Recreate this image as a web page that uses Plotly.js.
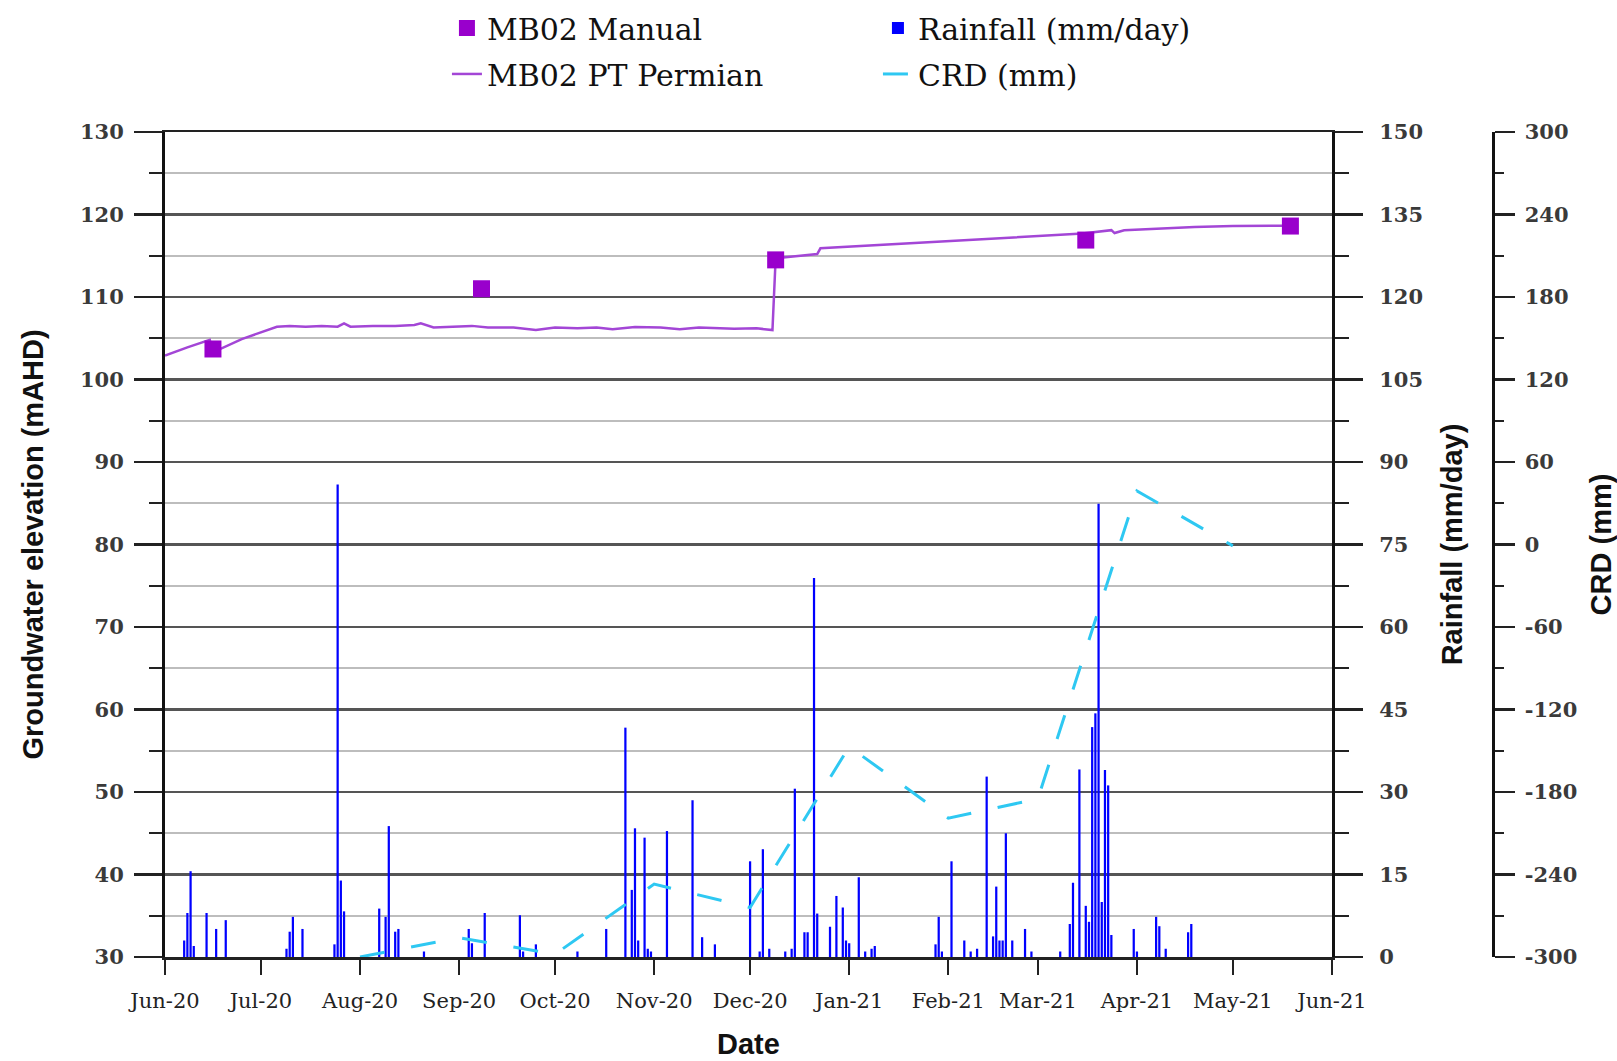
<!DOCTYPE html>
<html>
<head>
<meta charset="utf-8">
<script src="https://cdn.plot.ly/plotly-3.0.1.min.js"></script>
<style>html,body{margin:0;padding:0;background:#fff;}#chart{width:1617px;height:1061px;}</style>
</head>
<body>
<div id="chart"></div>
<script>
// ---- Data ----
const manualDates = ['2020-06-16','2020-09-08','2020-12-09','2021-03-16','2021-05-19'];
const manualValues = [103.7, 111.0, 114.5, 116.9, 118.6];

const ptDates = ['2020-06-01','2020-06-08','2020-06-15','2020-06-16','2020-06-25','2020-07-06',
  '2020-07-10','2020-07-15','2020-07-20','2020-07-25','2020-07-27','2020-07-29','2020-08-05','2020-08-12',
  '2020-08-18','2020-08-20','2020-08-24','2020-09-01','2020-09-05','2020-09-10','2020-09-18','2020-09-25',
  '2020-10-01','2020-10-08','2020-10-14','2020-10-19','2020-10-26','2020-11-03','2020-11-09','2020-11-15',
  '2020-11-20','2020-11-26','2020-12-03','2020-12-08','2020-12-09','2020-12-14','2020-12-22','2020-12-23',
  '2021-01-05','2021-01-20','2021-02-07','2021-02-20','2021-03-05','2021-03-15','2021-03-24','2021-03-25',
  '2021-03-28','2021-04-07','2021-04-19','2021-05-01','2021-05-14','2021-05-19'];
const ptValues = [102.9,103.9,104.8,103.3,104.9,106.4,
  106.5,106.4,106.5,106.4,106.8,106.4,106.5,106.5,
  106.6,106.8,106.3,106.4,106.5,106.3,106.3,106.0,
  106.3,106.2,106.3,106.1,106.35,106.3,106.1,106.3,
  106.2,106.15,106.2,106.0,114.7,114.9,115.2,115.9,
  116.2,116.5,116.9,117.2,117.5,117.7,118.1,117.75,
  118.1,118.3,118.5,118.6,118.7,118.65];

const rainDates = [
  '2020-06-07','2020-06-08','2020-06-09','2020-06-10','2020-06-14','2020-06-17','2020-06-20',
  '2020-07-09','2020-07-10','2020-07-11','2020-07-14','2020-07-24','2020-07-25','2020-07-26','2020-07-27',
  '2020-08-07','2020-08-09','2020-08-10','2020-08-12','2020-08-13','2020-08-21',
  '2020-09-04','2020-09-05','2020-09-09','2020-09-20','2020-09-21','2020-09-25',
  '2020-10-08','2020-10-17','2020-10-23','2020-10-25','2020-10-26','2020-10-27','2020-10-29','2020-10-30','2020-10-31',
  '2020-11-05','2020-11-13','2020-11-16','2020-11-20',
  '2020-12-01','2020-12-04','2020-12-05','2020-12-07','2020-12-12','2020-12-14','2020-12-15','2020-12-18','2020-12-19','2020-12-21','2020-12-22','2020-12-26','2020-12-28','2020-12-30','2020-12-31',
  '2021-01-01','2021-01-04','2021-01-06','2021-01-08','2021-01-09','2021-01-28','2021-01-29','2021-01-30',
  '2021-02-02','2021-02-06','2021-02-08','2021-02-10','2021-02-13','2021-02-15','2021-02-16','2021-02-17','2021-02-18','2021-02-19','2021-02-21','2021-02-25','2021-02-27',
  '2021-03-08','2021-03-11','2021-03-12','2021-03-14','2021-03-16','2021-03-17','2021-03-18','2021-03-19','2021-03-20','2021-03-21','2021-03-22','2021-03-23','2021-03-24','2021-03-31',
  '2021-04-01','2021-04-07','2021-04-08','2021-04-10','2021-04-17','2021-04-18'];
const rainValues = [
  3,8.0,15.6,2,8.0,5.1,6.7,
  1.5,4.6,7.3,5.1,2.3,85.9,13.9,8.3,
  8.8,7.3,23.8,4.6,5.1,1.0,
  5.1,2.5,8.0,7.6,1.0,2.3,
  1.0,5.1,41.7,12.2,23.4,3.0,21.7,1.5,1.0,
  22.9,28.5,3.6,2.3,
  17.4,1.0,19.6,1.5,1.0,1.5,30.6,4.5,4.5,68.9,7.9,5.5,11.1,9.0,3.0,
  2.5,14.5,1.0,1.5,2.0,2.3,7.3,1.0,
  17.4,3.0,1.0,1.5,32.8,3.75,12.8,3.0,3.0,22.5,3.0,5.1,1.0,
  1.0,6.0,13.5,34.1,9.3,6.4,41.8,44.3,82.4,10.0,34.0,31.2,4.0,5.1,
  1.0,7.3,5.6,1.5,4.5,6.0];

const crdDates = ['2020-08-01','2020-09-01','2020-10-01','2020-11-01','2020-12-01',
  '2021-01-01','2021-02-01','2021-03-01','2021-04-01','2021-05-01'];
const crdValues = [-300,-286,-298,-247,-264,-147,-199,-185,39,-1];

// CRD axis tick labels (plain hyphen as in the reference)
const crdTickVals = [-300,-240,-180,-120,-60,0,60,120,180,240,300];
const crdTickText = ['-300','-240','-180','-120','-60','0','60','120','180','240','300'];

// ---- Styling ----
const tickFont = {family: '"DejaVu Serif", serif', size: 21, color: '#3a3a3a', weight: 'bold'};
const titleFont = {family: '"Liberation Sans", Arial, sans-serif', size: 29, color: '#111', weight: 'bold'};
const legendFont = {family: '"DejaVu Serif", serif', size: 30, color: '#111'};

const traces = [
  {type: 'bar', name: 'Rainfall (mm/day)', x: rainDates, y: rainValues, yaxis: 'y2',
   width: 0.7 * 86400000, marker: {color: '#0000FF', line: {width: 0}},
   legend: 'legend', legendrank: 2},
  {type: 'scatter', mode: 'lines', name: 'CRD (mm)', x: crdDates, y: crdValues, yaxis: 'y3',
   line: {color: '#2EC8F2', width: 3, dash: '25px,27px'}, legend: 'legend2', legendrank: 2},
  {type: 'scatter', mode: 'lines', name: 'MB02 PT Permian', x: ptDates, y: ptValues, yaxis: 'y',
   line: {color: '#A346D6', width: 2.5}, legend: 'legend2', legendrank: 1},
  {type: 'scatter', mode: 'markers', name: 'MB02 Manual', x: manualDates, y: manualValues, yaxis: 'y',
   marker: {symbol: 'square', size: 17, color: '#9900CC'}, legend: 'legend', legendrank: 1}
];

const layout = {
  width: 1617, height: 1061,
  margin: {l: 165, r: 120, t: 132, b: 104},
  paper_bgcolor: '#fff', plot_bgcolor: '#fff',
  showlegend: true,
  barmode: 'overlay',
  xaxis: {
    type: 'date', range: ['2020-06-01', '2021-06-01'], domain: [0, 0.8761],
    tick0: '2020-06-01', dtick: 'M1', tickformat: '%b-%y',
    ticks: 'outside', ticklen: 15, tickwidth: 2, tickcolor: '#222',
    showline: true, mirror: true, linecolor: '#222', linewidth: 2.5, showgrid: false, zeroline: false,
    tickfont: {family: '"DejaVu Serif", serif', size: 21, color: '#222'},
    ticklabelstandoff: 8,
    title: {text: 'Date', font: titleFont, standoff: 22}
  },
  yaxis: {
    range: [30, 130], dtick: 10, tick0: 30,
    ticks: 'outside', ticklen: 28, tickwidth: 2.5, tickcolor: '#222',
    showline: true, linecolor: '#111', linewidth: 3,
    showgrid: true, gridcolor: '#555', gridwidth: 2.5, zeroline: false,
    minor: {dtick: 5, ticks: 'outside', ticklen: 13, tickwidth: 2, tickcolor: '#222',
            showgrid: true, gridcolor: '#bdbdbd', gridwidth: 2},
    tickfont: tickFont, ticklabelstandoff: 6,
    title: {text: 'Groundwater elevation (mAHD)', font: titleFont, standoff: 28}
  },
  yaxis2: {
    range: [0, 150], dtick: 15, tick0: 0, overlaying: 'y', side: 'right', anchor: 'x',
    ticks: 'outside', ticklen: 28, tickwidth: 2.5, tickcolor: '#222',
    showline: true, linecolor: '#111', linewidth: 3, showgrid: false, zeroline: false,
    minor: {dtick: 7.5, ticks: 'outside', ticklen: 14, tickwidth: 2, tickcolor: '#222', showgrid: false},
    tickfont: tickFont, ticklabelstandoff: 12,
    title: {text: 'Rainfall (mm/day)', font: titleFont, standoff: 20}
  },
  yaxis3: {
    range: [-300, 300], tickmode: 'array', tickvals: crdTickVals, ticktext: crdTickText,
    overlaying: 'y', side: 'right', anchor: 'free', position: 0.997,
    ticks: 'outside', ticklen: 20, tickwidth: 2.5, tickcolor: '#222',
    showline: true, linecolor: '#111', linewidth: 2.5, showgrid: false, zeroline: false,
    minor: {tickmode: 'linear', tick0: -300, dtick: 30, ticks: 'outside', ticklen: 9, tickwidth: 2, tickcolor: '#222', showgrid: false},
    tickfont: tickFont, ticklabelstandoff: 6,
    title: {text: 'CRD (mm)', font: titleFont, standoff: 22}
  },
  legend: {
    orientation: 'h', xref: 'container', yref: 'container', x: 0.2764, y: 0.9736,
    xanchor: 'left', yanchor: 'middle', font: legendFont, entrywidth: 386, traceorder: 'normal',
    bgcolor: 'rgba(0,0,0,0)'
  },
  legend2: {
    orientation: 'h', xref: 'container', yref: 'container', x: 0.2764, y: 0.9303,
    xanchor: 'left', yanchor: 'middle', font: legendFont, entrywidth: 386, traceorder: 'normal',
    bgcolor: 'rgba(0,0,0,0)'
  }
};

Plotly.newPlot('chart', traces, layout, {staticPlot: true, displayModeBar: false});
</script>
</body>
</html>
